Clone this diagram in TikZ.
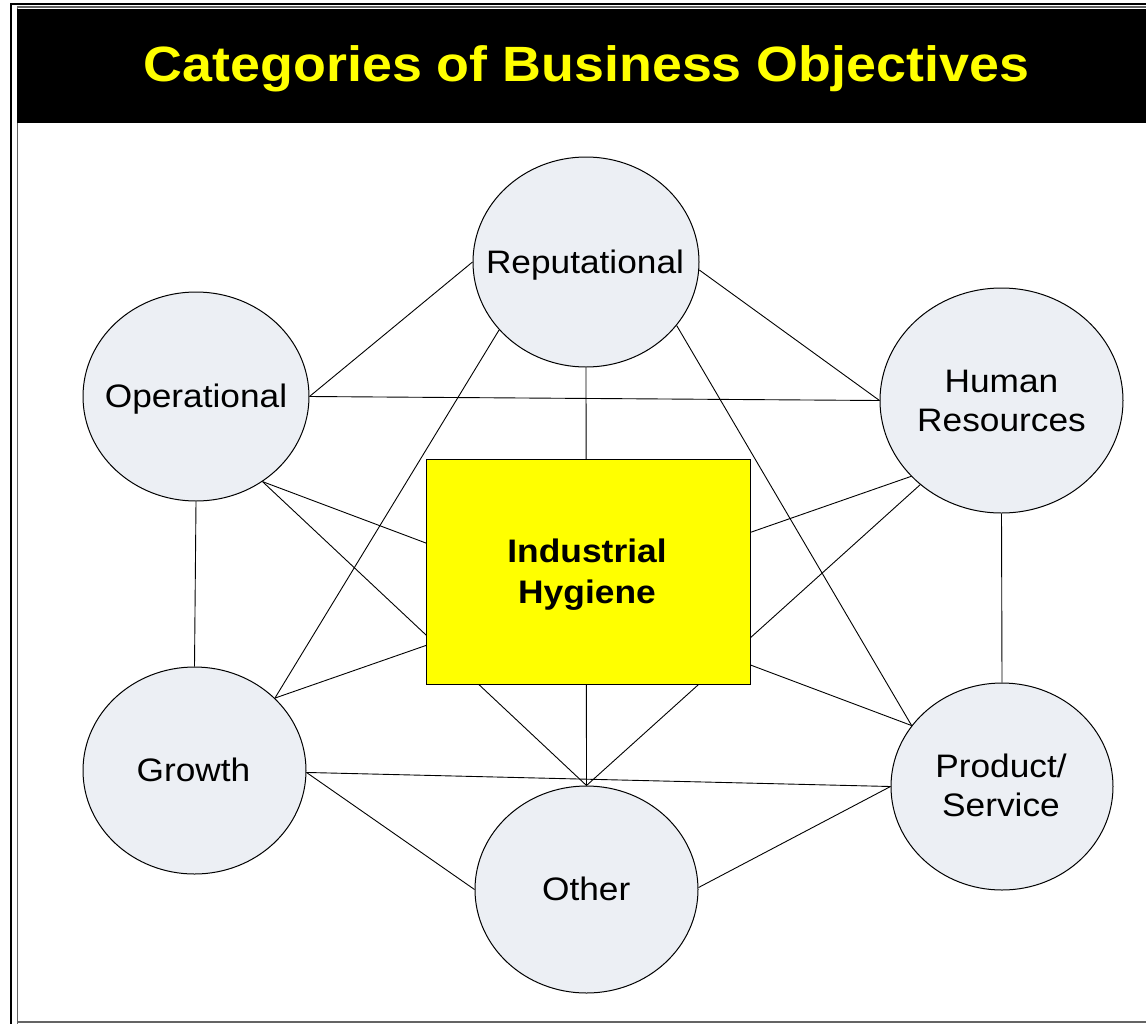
\documentclass[tikz,border=0pt]{standalone}
\usepackage{fontspec}
\setmainfont{Liberation Sans}[FakeStretch=1.085]
\usetikzlibrary{shapes.geometric}
\definecolor{bubblefill}{RGB}{236,239,244}
\definecolor{titleyellow}{RGB}{255,255,0}
\definecolor{frameGray}{RGB}{100,100,100}
\begin{document}
\begin{tikzpicture}[x=1pt,y=-1pt,
  bubble/.style={ellipse, draw=black, line width=1pt, fill=bubblefill, inner sep=0pt},
  lbl/.style={anchor=base, inner sep=0pt, font=\fontsize{32.5}{39}\selectfont},
  link/.style={draw=black, line width=0.9pt},
  centerbox/.style={rectangle, draw=black, line width=1pt, fill=titleyellow, inner sep=0pt}]
\clip (0,0) rectangle (1146,1023);
\fill[white] (0,0) rectangle (1146,1023);
% frame
\draw[black, line width=2pt] (11,1100) -- (11,3.5) -- (1200,3.5);
\draw[frameGray, line width=1.5pt] (17.5,1100) -- (17.5,7) -- (1200,7);
\draw[frameGray, line width=2pt] (17.5,1021.5) -- (1200,1021.5);
\fill[black] (17,9) rectangle (1200,122.5);
\node[anchor=base, inner sep=0pt, text=titleyellow, font=\fontsize{49.6}{60}\selectfont\bfseries] (title) at (586.5,81) {Categories of Business Objectives};
% bubbles
\node[bubble, minimum width=226pt, minimum height=210pt] (R) at (586,262) {};
\node[bubble, minimum width=226pt, minimum height=209pt] (O) at (196,396.5) {};
\node[bubble, minimum width=243pt, minimum height=225pt] (H) at (1001.5,400.5) {};
\node[bubble, minimum width=223pt, minimum height=207pt] (G) at (194.5,770.5) {};
\node[bubble, minimum width=223pt, minimum height=207pt] (Ot) at (586.5,889.5) {};
\node[bubble, minimum width=222pt, minimum height=207pt] (P) at (1002,786.5) {};
% connectors
\draw[link] (R.180) -- (O.0);
\draw[link] (R.-4.6) -- (H.180);
\draw[link] (R.218.6) -- (G.42.4);
\draw[link] (R.-35.6) -- (P.146.5);
\draw[link] (R.270) -- (Ot.90);
\draw[link] (O.0) -- (H.180);
\draw[link] (O.270) -- (G.90);
\draw[link] (O.-52.6) -- (P.146.5);
\draw[link] (O.-52.6) -- (Ot.90);
\draw[link] (H.220.5) -- (G.42.4);
\draw[link] (H.270) -- (P.90);
\draw[link] (H.226) -- (Ot.90);
\draw[link] (G.-1) -- (P.180);
\draw[link] (G.-1) -- (Ot.180);
\draw[link] (P.180) -- (Ot.1);
% labels
\node[lbl] (Rt) at (585,273) {Reputational};
\node[lbl] (Ott) at (196,407) {Operational};
\node[lbl] (Ht) at (1001.5,392.7) {\begin{tabular}[t]{@{}c@{}}Human\\Resources\end{tabular}};
\node[lbl] (Gt) at (193.5,781) {Growth};
\node[lbl] (Othert) at (586.2,900.5) {Other};
\node[lbl] (Pt) at (1001,777.5) {\begin{tabular}[t]{@{}c@{}}Product/\\Service\end{tabular}};
% centre box
\node[centerbox, minimum width=324pt, minimum height=225.5pt] (IH) at (588,571.75) {};
\node[anchor=base, inner sep=0pt, font=\fontsize{32.6}{40.6}\selectfont\bfseries] (IHt) at (587,562.5) {\begin{tabular}[t]{@{}c@{}}Industrial\\Hygiene\end{tabular}};
\end{tikzpicture}
\end{document}
